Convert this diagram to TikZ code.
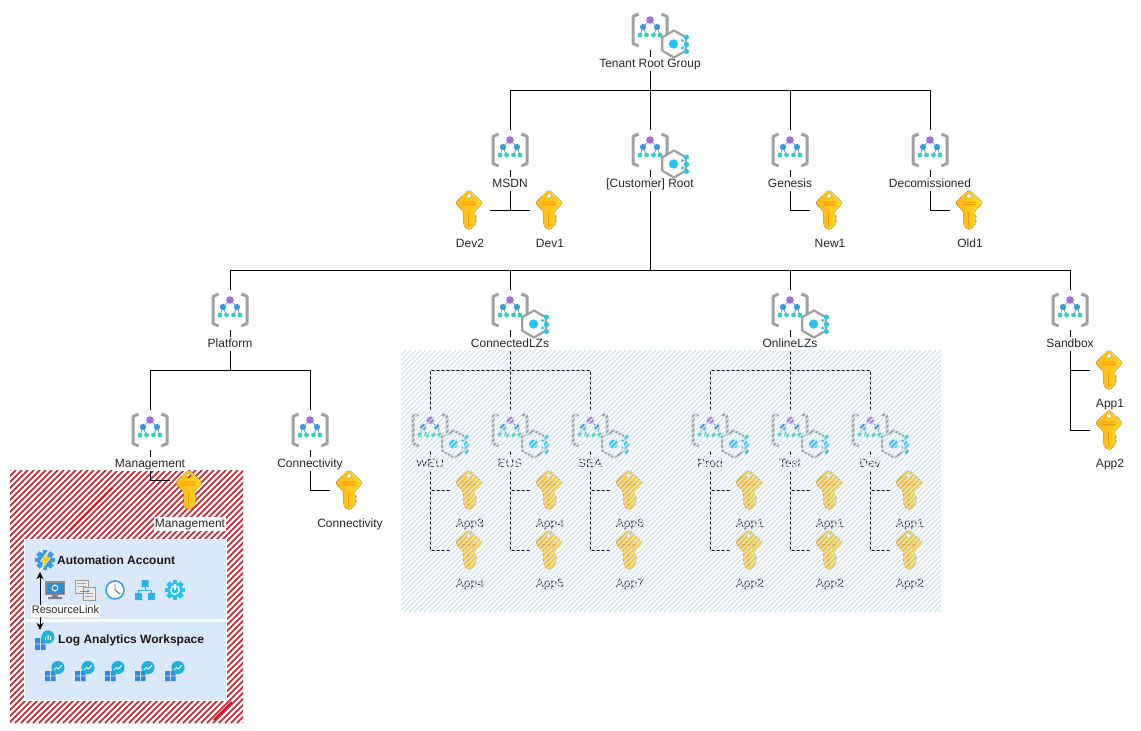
\documentclass[tikz,border=0pt]{standalone}
\usepackage{fontspec}
\setmainfont{Liberation Sans}
\usetikzlibrary{arrows.meta,calc}
\pgfdeclarelayer{back}\pgfdeclarelayer{conn}\pgfdeclarelayer{front}
\pgfsetlayers{back,conn,main,front}
\definecolor{brk}{HTML}{A0A0A0}
\definecolor{pur}{HTML}{A070E0}
\definecolor{blu}{HTML}{3A9AE8}
\definecolor{tea}{HTML}{35D0C0}
\definecolor{cya}{HTML}{25C4F0}
\definecolor{keyA}{HTML}{FFB30F}
\definecolor{keyB}{HTML}{FFDA30}
\definecolor{keyC}{HTML}{F59A00}
\definecolor{panel}{HTML}{DAE8FC}
\definecolor{hatchb}{HTML}{D6E4F0}
\definecolor{hatchr}{HTML}{CC1F2A}
\definecolor{wsb}{HTML}{3389E0}
\definecolor{wsc}{HTML}{22B0D8}
\tikzset{
  iconbox/.style={inner sep=0pt,minimum size=40pt},
  lbl/.style={fill=white,inner sep=1pt,text height=9.3pt,text depth=2.7pt,font=\fontsize{12}{14}\selectfont,text=black!85},
  conline/.style={draw=black,line width=0.9pt},
  paneltext/.style={inner sep=0pt,anchor=west,font=\bfseries\fontsize{12}{14}\selectfont,text=black!90},
  mgicon/.pic={
    \draw[brk,line width=3pt,line join=round] (-11.5,-16) -- (-17,-13.5) -- (-17,13.5) -- (-11.5,16);
    \draw[brk,line width=3pt,line join=round] (11.5,-16) -- (17,-13.5) -- (17,13.5) -- (11.5,16);
    \draw[blu!70!gray,line width=0.6pt] (-10,5)--(-7,-3)--(0,-10)--(7,-3)--(10,5) (-3.5,5)--(-7,-3) (3.5,5)--(7,-3);
    \fill[pur] (0,-10) circle (3.8);
    \fill[blu] (-7,-3) circle (3.1) (7,-3) circle (3.1);
    \fill[tea] (-10,5) circle (2.4) (-3.5,5) circle (2.4) (3.5,5) circle (2.4) (10,5) circle (2.4);
  },
  subicon/.pic={
    \draw[brk,fill=white,line width=2.2pt,line join=round] (0,-13.5)--(11.7,-6.75)--(11.7,6.75)--(0,13.5)--(-11.7,6.75)--(-11.7,-6.75)--cycle;
    \fill[cya] (-0.5,0) circle (4.6);
    \fill[cya] (12.5,-7) circle (2.5) (12.5,0.5) circle (2.6) (12.5,7.5) circle (2.5) (8.5,-3.5) circle (1.7) (8.5,4) circle (1.7);
  },
  keyicon/.pic={
    \fill[left color=keyA,right color=keyB,rounded corners=2.8pt,even odd rule]
      (0,-20.5) -- (14,-7) -- (5.5,1.5) -- (5.5,5) -- (7.5,7) -- (5.5,9) -- (7.5,11) -- (5.5,13) -- (5.5,16) -- (0,20.5) -- (-5.5,16) -- (-5.5,1.5) -- (-14,-7) -- cycle
      (0,-14) circle (2.4);
    \fill[keyC] (-6.5,-8.5) rectangle (6.5,-7.4) (-6.5,-5.8) rectangle (6.5,-4.7);
    \fill[keyC!80!keyA] (-1.5,2) rectangle (-0.5,17);
  },
  gearshape/.pic={
    \foreach \a in {0,45,...,315}{\fill[rotate=\a] (-2.4,-10) rectangle (2.4,-5);}
    \fill (0,0) circle (7.6);
  },
  wsicon/.pic={
    \fill[wsb] (-10,1) rectangle (-5.2,5.6) (-4.2,1) rectangle (0.6,5.6) (-10,6.4) rectangle (-5.2,11) (-4.2,6.4) rectangle (0.6,11);
    \fill[wsc] (3,-2.5) circle (6.6);
    \draw[white,line width=1pt,line join=round] (-1,0) -- (1.5,-2.5) -- (3.5,-1) -- (7,-5);
  },
}
\newcommand{\mgN}[4]{\node[iconbox] (#1) at (#2,#3) {};\pic at (#1) {mgicon};\node[lbl] (#1-l) at (#2,#3+34) {#4};}
\newcommand{\mgS}[4]{\mgN{#1}{#2}{#3}{#4}\pic at ($(#1)+(24,14)$) {subicon};}
\newcommand{\keyN}[4]{\node[iconbox] (#1) at (#2,#3) {};\pic at ($(#1)+(-1,0)$) {keyicon};\node[lbl] (#1-l) at (#2,#3+34) {#4};}
\begin{document}
\begin{tikzpicture}[x=1pt,y=-1pt]
\useasboundingbox (0,0) rectangle (1141,731);
\begin{pgfonlayer}{back}
  \fill[white] (0,0) rectangle (1141,731);
  % red hatched zone
  \begin{scope}
    \clip (10,470) rectangle (243,723);
    \foreach \d in {-253,-247,...,233}{\draw[hatchr,line width=1.5pt] (10+\d,723) -- (10+\d+253,470);}
    \draw[hatchr,line width=2.2pt] (70,530) -- (112,488);
    \draw[hatchr,line width=2.2pt] (214,720) -- (232,702);
  \end{scope}
  % panels
  \fill[white] (24,539) rectangle (227,701);
  \fill[panel] (25,540) rectangle (226,619);
  \fill[panel] (25,622) rectangle (226,700);
\end{pgfonlayer}

% tree nodes
\mgS{tenant}{650}{30}{Tenant Root Group}
\mgN{msdn}{510}{150}{MSDN}
\mgS{croot}{650}{150}{[Customer] Root}
\mgN{genesis}{790}{150}{Genesis}
\mgN{decom}{930}{150}{Decomissioned}
\keyN{dev2}{470}{210}{Dev2}
\keyN{dev1}{550}{210}{Dev1}
\keyN{new1}{830}{210}{New1}
\keyN{old1}{970}{210}{Old1}
\mgN{platform}{230}{310}{Platform}
\mgS{conlz}{510}{310}{ConnectedLZs}
\mgS{onlz}{790}{310}{OnlineLZs}
\mgN{sandbox}{1070}{310}{Sandbox}
\keyN{sbapp1}{1110}{370}{App1}
\keyN{sbapp2}{1110}{430}{App2}
\mgN{mgmt}{150}{430}{Management}
\mgN{conn}{310}{430}{Connectivity}
\keyN{mgkey}{190}{490}{Management}
\keyN{conkey}{350}{490}{Connectivity}
\mgS{weu}{430}{430}{WEU}
\mgS{eus}{510}{430}{EUS}
\mgS{sea}{590}{430}{SEA}
\mgS{prod}{710}{430}{Prod}
\mgS{test}{790}{430}{Test}
\mgS{devm}{870}{430}{Dev}
\keyN{wa}{470}{490}{App3}
\keyN{wb}{470}{550}{App4}
\keyN{ea}{550}{490}{App4}
\keyN{eb}{550}{550}{App5}
\keyN{sa}{630}{490}{App6}
\keyN{sb}{630}{550}{App7}
\keyN{pa}{750}{490}{App1}
\keyN{pb}{750}{550}{App2}
\keyN{ta}{830}{490}{App1}
\keyN{tb}{830}{550}{App2}
\keyN{da}{910}{490}{App1}
\keyN{db}{910}{550}{App2}

% connectors
\coordinate (busA) at (650,90);
\coordinate (busB) at (650,270);
\coordinate (busC) at (230,370);
\coordinate (busD) at (510,370);
\coordinate (busE) at (790,370);
\coordinate (devjoin) at (510,210);
\coordinate (mgport) at (170,480);
\begin{pgfonlayer}{conn}
  \draw[conline] (tenant.south) -- (croot.north);
  \draw[conline] (busA) -| (msdn.north);
  \draw[conline] (busA) -| (genesis.north);
  \draw[conline] (busA) -| (decom.north);
  \draw[conline] (msdn.south) -- (devjoin);
  \draw[conline] (dev2.east) -- (dev1.west);
  \draw[conline] (genesis.south) |- (new1.west);
  \draw[conline] (decom.south) |- (old1.west);
  \draw[conline] (croot.south) -- (busB);
  \draw[conline] (platform.north) |- (busB);
  \draw[conline] (sandbox.north) |- (busB);
  \draw[conline] (conlz.north) |- (busB);
  \draw[conline] (onlz.north) |- (busB);
  \draw[conline] (sandbox.south) |- (sbapp1.west);
  \draw[conline] (sandbox.south) |- (sbapp2.west);
  \draw[conline] (platform.south) -- (busC);
  \draw[conline] (mgmt.north) |- (busC);
  \draw[conline] (conn.north) |- (busC);
  \draw[conline] (mgmt.south) |- (mgport);
  \draw[conline] (conn.south) |- (conkey.west);
  \draw[conline] (conlz.south) -- (eus.north);
  \draw[conline] (weu.north) |- (busD);
  \draw[conline] (sea.north) |- (busD);
  \draw[conline] (onlz.south) -- (test.north);
  \draw[conline] (prod.north) |- (busE);
  \draw[conline] (devm.north) |- (busE);
  \foreach \m/\k in {weu/wa,weu/wb,eus/ea,eus/eb,sea/sa,sea/sb,prod/pa,prod/pb,test/ta,test/tb,devm/da,devm/db}{
    \draw[conline] (\m.south) |- (\k.west);
  }
\end{pgfonlayer}

% automation panel
\node[inner sep=0pt,minimum width=20pt,minimum height=20pt] (auto) at (40,562) {};
\begin{scope}[shift={(45,560)}]
  \pic[color=blu,fill=blu] {gearshape};
  \fill[white] (3.5,-10.5) -- (-5,1.5) -- (-1.5,1.5) -- (-4,11) -- (6,-2.5) -- (2,-2.5) -- cycle;
  \fill[yellow!60!orange] (3,-9) -- (-3.6,0.8) -- (-0.4,0.8) -- (-2.6,8.5) -- (4.6,-1.8) -- (0.8,-1.8) -- cycle;
\end{scope}
\node[paneltext] (autotxt) at (57,560) {Automation Account};
\begin{scope}[shift={(55,590)}]
  \fill[black!45] (-10,-9) rectangle (10,5);
  \fill[blu!90!black] (-8.5,-7.5) rectangle (8.5,3.5);
  \draw[white,line width=1pt] (-3,-2) arc (180:20:3);
  \draw[white,line width=1pt] (3,-2) arc (0:-160:3);
  \fill[black!50] (-3,5) rectangle (3,7) (-7,7) rectangle (7,9);
\end{scope}
\begin{scope}[shift={(85,590)}]
  \draw[black!40,fill=black!8] (-10,-10) rectangle (3,3);
  \draw[black!40,fill=black!8] (-2,-3) rectangle (10,10);
  \draw[black!35] (-8,-7)--(1,-7) (-8,-4)--(1,-4) (0,3)--(8,3) (0,6)--(8,6);
  \draw[blu,line width=1pt,-{Stealth[length=3pt,width=3pt]}] (-5,1) -- (5,1);
\end{scope}
\begin{scope}[shift={(115,590)}]
  \draw[blu,fill=white,line width=1.5pt] (0,0) circle (9);
  \draw[black!60,line width=0.9pt] (0,-6) -- (0,0) -- (5,4);
\end{scope}
\begin{scope}[shift={(145,590)}]
  \fill[blu!80!cyan] (-3.5,-10) rectangle (3.5,-3) (-10,3) rectangle (-3,10) (3,3) rectangle (10,10);
  \draw[blu!80!cyan,line width=1pt] (0,-3) -- (0,0) (-6.5,3) -- (-6.5,0) -- (6.5,0) -- (6.5,3);
\end{scope}
\begin{scope}[shift={(175,590)}]
  \pic[color=cya,fill=cya] {gearshape};
  \fill[white] (0,0) circle (5);
  \fill[cya] (0,0) circle (3.4);
  \fill[white] (-1.2,-6) rectangle (1.2,0);
\end{scope}

% log analytics panel
\node[inner sep=0pt,minimum width=20pt,minimum height=20pt] (logicon) at (40,640) {};
\begin{scope}[shift={(45,638)}]
  \fill[wsb] (-10,0) rectangle (-5.2,5.6) (-4.2,0) rectangle (0.6,5.6) (-10,6.4) rectangle (-5.2,12) (-4.2,6.4) rectangle (0.6,12);
  \fill[wsc] (3,-1) circle (6.6);
  \fill[white] (0,-1) rectangle (1.2,2) (2.5,-3) rectangle (3.7,2) (5,-2) rectangle (6.2,2);
\end{scope}
\node[paneltext] (logtxt) at (58,640) {Log Analytics Workspace};
\pic at (55,670) {wsicon};
\pic at (85,670) {wsicon};
\pic at (115,670) {wsicon};
\pic at (145,670) {wsicon};
\pic at (175,670) {wsicon};

\draw[black,line width=0.9pt,{Stealth[length=7pt,width=7pt]}-{Stealth[length=7pt,width=7pt]}] (auto.south) -- (logicon.north);
\node[lbl,font=\fontsize{11}{13}\selectfont,text height=8.5pt,text depth=2.5pt,inner sep=0.5pt] (rlink) at (65.5,610.5) {ResourceLink};

% blue hatched zone over its contents
\begin{pgfonlayer}{front}
  \begin{scope}
    \clip (401,350) rectangle (941,612);
    \foreach \d in {-262,-257,...,540}{\draw[hatchb,line width=1.4pt] (401+\d,612) -- (401+\d+262,350);}
  \end{scope}
\end{pgfonlayer}
\end{tikzpicture}
\end{document}
